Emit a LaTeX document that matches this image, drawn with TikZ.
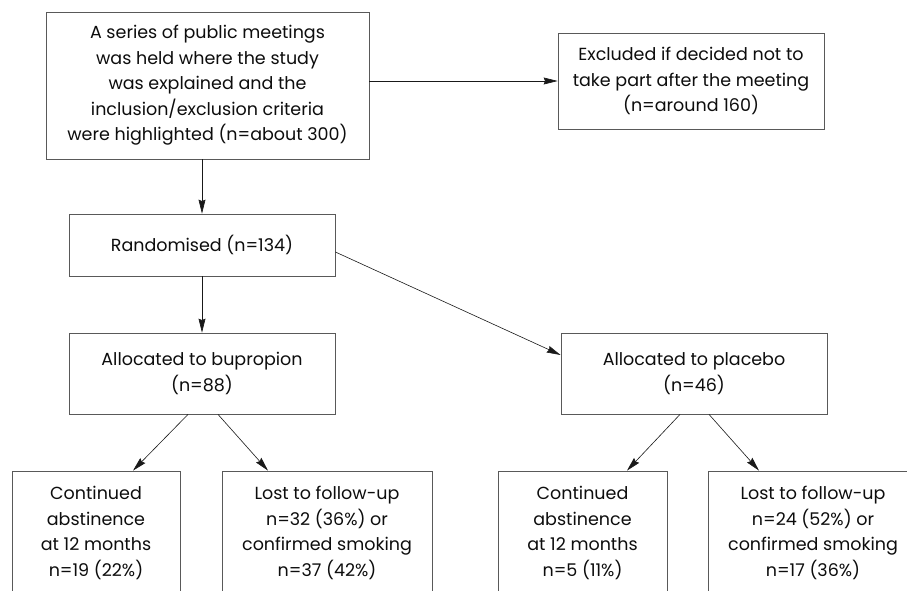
\documentclass[tikz,border=0pt]{standalone}
\usepackage{fontspec}
\setmainfont{Poppins}
\usetikzlibrary{arrows.meta,calc}
\begin{document}
\begin{tikzpicture}[x=1pt,y=-1pt,
  box/.style={draw=black!65,line width=0.8pt,rectangle,inner sep=0pt,align=center,
    text=black!95,font=\fontsize{17.5}{25.5}\selectfont},
  arr/.style={draw=black!90,line width=0.6pt,-{Stealth[length=14pt,width=7pt,inset=1.5pt]}}]
\useasboundingbox (0,0) rectangle (907,591);
\clip (0,0) rectangle (907,591);
\fill[white] (0,0) rectangle (907,591);
\node[box,minimum width=323pt,minimum height=147pt] (top) at (207.5,85.5)
  {A series of public meetings\\was held where the study\\was explained and the\\inclusion/exclusion criteria\\were highlighted (n=about 300)};
\node[box,minimum width=266pt,minimum height=96pt] (excl) at (691,81)
  {Excluded if decided not to\\take part after the meeting\\(n=around 160)};
\node[box,minimum width=266pt,minimum height=62pt] (rand) at (202,245)
  {Randomised (n=134)};
\node[box,minimum width=266pt,minimum height=81pt] (bup) at (202,373.5)
  {Allocated to bupropion\\(n=88)};
\node[box,minimum width=266pt,minimum height=81pt] (plac) at (694,373.5)
  {Allocated to placebo\\(n=46)};
\node[box,minimum width=168pt,minimum height=124pt] (ca) at (96,533)
  {Continued\\abstinence\\at 12 months\\n=19 (22\%)};
\node[box,minimum width=210pt,minimum height=124pt] (la) at (327,533)
  {Lost to follow-up\\n=32 (36\%) or\\confirmed smoking\\n=37 (42\%)};
\node[box,minimum width=169pt,minimum height=124pt] (cb) at (582.5,533)
  {Continued\\abstinence\\at 12 months\\n=5 (11\%)};
\node[box,minimum width=210pt,minimum height=124pt] (lb) at (813,533)
  {Lost to follow-up\\n=24 (52\%) or\\confirmed smoking\\n=17 (36\%)};
\draw[arr] (top.east |- excl.west) -- (excl.west);
\draw[arr] (top.south -| bup.north) -- (rand.north);
\draw[arr] (rand.south) -- (bup.north);
\draw[arr] ([yshift=-7pt]rand.east) -- ([yshift=18.5pt]plac.west);
\draw[arr] ([xshift=-14pt]bup.south) -- ([xshift=37pt]ca.north);
\draw[arr] ([xshift=16pt]bup.south) -- ([xshift=-59pt]la.north);
\draw[arr] ([xshift=-14pt]plac.south) -- ([xshift=44.5pt]cb.north);
\draw[arr] ([xshift=15pt]plac.south) -- ([xshift=-54pt]lb.north);
\end{tikzpicture}
\end{document}
